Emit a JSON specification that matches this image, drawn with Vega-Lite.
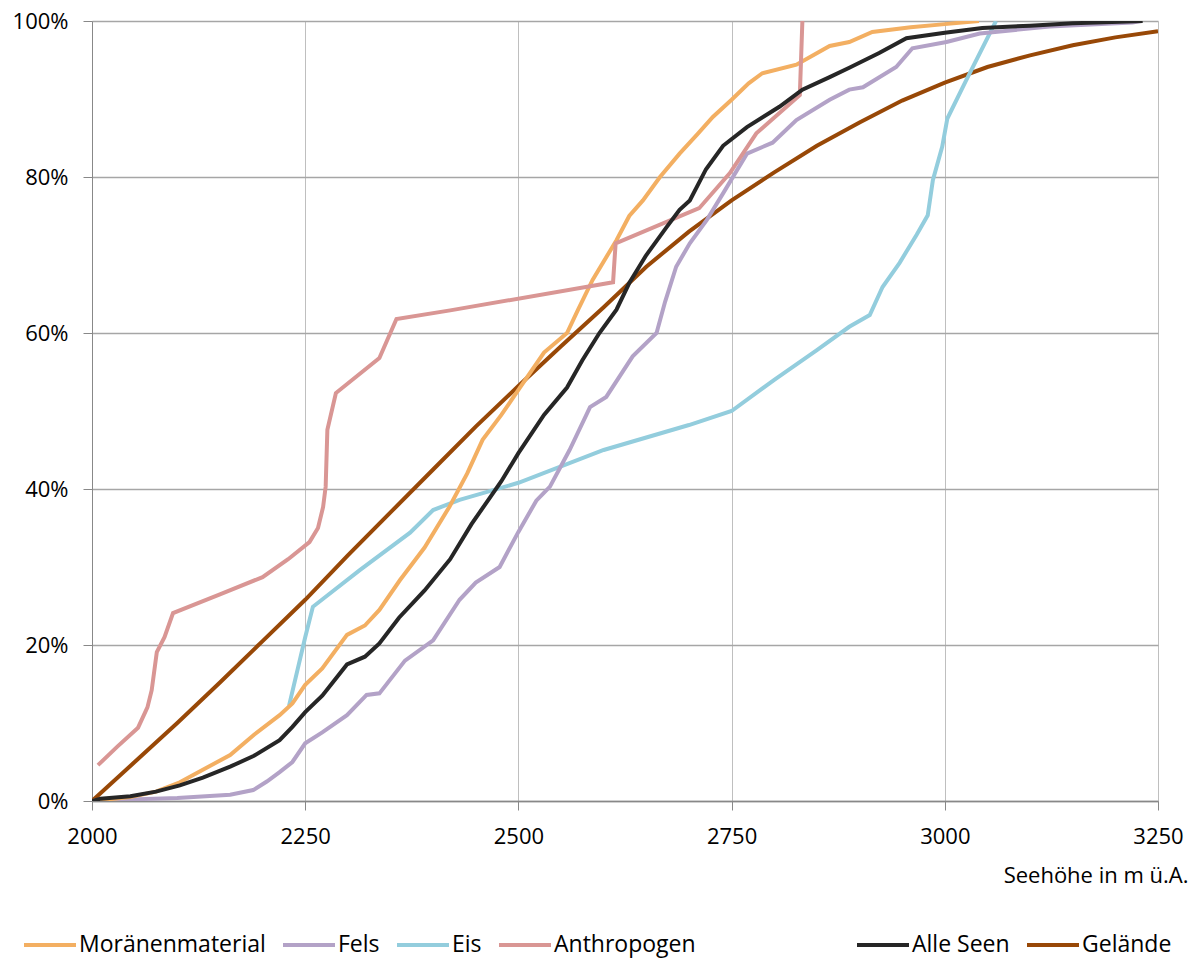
{
  "$schema": "https://vega.github.io/schema/vega-lite/v6.json",
  "width": 1066,
  "height": 780,
  "autosize": {"type": "none"},
  "padding": {"left": 92, "top": 21, "right": 36, "bottom": 159},
  "background": "white",
  "config": {"font": "Open Sans", "view": {"stroke": null}},
  "datasets": {
    "d": [
      {"s": "Gelände", "h": 2000, "p": 0}, {"s": "Gelände", "h": 2050, "p": 5}, {"s": "Gelände", "h": 2100, "p": 10}, {"s": "Gelände", "h": 2150, "p": 15.2}, {"s": "Gelände", "h": 2200, "p": 20.5}, {"s": "Gelände", "h": 2250, "p": 25.8}, {"s": "Gelände", "h": 2300, "p": 31.5}, {"s": "Gelände", "h": 2350, "p": 37}, {"s": "Gelände", "h": 2400, "p": 42.5}, {"s": "Gelände", "h": 2450, "p": 48}, {"s": "Gelände", "h": 2500, "p": 53.2}, {"s": "Gelände", "h": 2550, "p": 58.3}, {"s": "Gelände", "h": 2600, "p": 63.3}, {"s": "Gelände", "h": 2650, "p": 68.5}, {"s": "Gelände", "h": 2700, "p": 73}, {"s": "Gelände", "h": 2750, "p": 77}, {"s": "Gelände", "h": 2800, "p": 80.6}, {"s": "Gelände", "h": 2850, "p": 84}, {"s": "Gelände", "h": 2900, "p": 87}, {"s": "Gelände", "h": 2950, "p": 89.8}, {"s": "Gelände", "h": 3000, "p": 92.1}, {"s": "Gelände", "h": 3050, "p": 94.1}, {"s": "Gelände", "h": 3100, "p": 95.6}, {"s": "Gelände", "h": 3150, "p": 96.9}, {"s": "Gelände", "h": 3200, "p": 97.9}, {"s": "Gelände", "h": 3250, "p": 98.7},

      {"s": "Eis", "h": 2231, "p": 12.2}, {"s": "Eis", "h": 2250, "p": 21}, {"s": "Eis", "h": 2259, "p": 24.9}, {"s": "Eis", "h": 2314, "p": 29.6}, {"s": "Eis", "h": 2373, "p": 34.4}, {"s": "Eis", "h": 2400, "p": 37.3}, {"s": "Eis", "h": 2431, "p": 38.6}, {"s": "Eis", "h": 2500, "p": 40.8}, {"s": "Eis", "h": 2600, "p": 45}, {"s": "Eis", "h": 2700, "p": 48.2}, {"s": "Eis", "h": 2750, "p": 50}, {"s": "Eis", "h": 2800, "p": 54}, {"s": "Eis", "h": 2850, "p": 57.8}, {"s": "Eis", "h": 2888, "p": 60.8}, {"s": "Eis", "h": 2912, "p": 62.3}, {"s": "Eis", "h": 2927, "p": 65.9}, {"s": "Eis", "h": 2947, "p": 69}, {"s": "Eis", "h": 2967, "p": 72.6}, {"s": "Eis", "h": 2980, "p": 75.1}, {"s": "Eis", "h": 2986, "p": 79.6}, {"s": "Eis", "h": 2997, "p": 83.9}, {"s": "Eis", "h": 3003, "p": 87.5}, {"s": "Eis", "h": 3025, "p": 92.4}, {"s": "Eis", "h": 3060, "p": 100},

      {"s": "Fels", "h": 2000, "p": 0}, {"s": "Fels", "h": 2045, "p": 0.2}, {"s": "Fels", "h": 2100, "p": 0.4}, {"s": "Fels", "h": 2162, "p": 0.8}, {"s": "Fels", "h": 2189, "p": 1.4}, {"s": "Fels", "h": 2205, "p": 2.5}, {"s": "Fels", "h": 2220, "p": 3.7}, {"s": "Fels", "h": 2235, "p": 5}, {"s": "Fels", "h": 2250, "p": 7.4}, {"s": "Fels", "h": 2270, "p": 8.8}, {"s": "Fels", "h": 2299, "p": 11}, {"s": "Fels", "h": 2322, "p": 13.6}, {"s": "Fels", "h": 2337, "p": 13.8}, {"s": "Fels", "h": 2367, "p": 18}, {"s": "Fels", "h": 2400, "p": 20.6}, {"s": "Fels", "h": 2431, "p": 25.8}, {"s": "Fels", "h": 2450, "p": 28}, {"s": "Fels", "h": 2478, "p": 30}, {"s": "Fels", "h": 2500, "p": 34.5}, {"s": "Fels", "h": 2521, "p": 38.5}, {"s": "Fels", "h": 2537, "p": 40.3}, {"s": "Fels", "h": 2560, "p": 45}, {"s": "Fels", "h": 2584, "p": 50.5}, {"s": "Fels", "h": 2603, "p": 51.8}, {"s": "Fels", "h": 2634, "p": 57}, {"s": "Fels", "h": 2662, "p": 60}, {"s": "Fels", "h": 2672, "p": 64}, {"s": "Fels", "h": 2685, "p": 68.5}, {"s": "Fels", "h": 2701, "p": 71.5}, {"s": "Fels", "h": 2721, "p": 74.5}, {"s": "Fels", "h": 2740, "p": 77.9}, {"s": "Fels", "h": 2768, "p": 83}, {"s": "Fels", "h": 2798, "p": 84.4}, {"s": "Fels", "h": 2826, "p": 87.3}, {"s": "Fels", "h": 2865, "p": 89.9}, {"s": "Fels", "h": 2888, "p": 91.2}, {"s": "Fels", "h": 2904, "p": 91.5}, {"s": "Fels", "h": 2943, "p": 94.1}, {"s": "Fels", "h": 2962, "p": 96.5}, {"s": "Fels", "h": 3002, "p": 97.3}, {"s": "Fels", "h": 3041, "p": 98.4}, {"s": "Fels", "h": 3123, "p": 99.3}, {"s": "Fels", "h": 3220, "p": 99.8}, {"s": "Fels", "h": 3230, "p": 100},

      {"s": "Moränenmaterial", "h": 2000, "p": 0}, {"s": "Moränenmaterial", "h": 2045, "p": 0.5}, {"s": "Moränenmaterial", "h": 2075, "p": 1.2}, {"s": "Moränenmaterial", "h": 2103, "p": 2.4}, {"s": "Moränenmaterial", "h": 2130, "p": 4}, {"s": "Moränenmaterial", "h": 2162, "p": 5.9}, {"s": "Moränenmaterial", "h": 2190, "p": 8.5}, {"s": "Moränenmaterial", "h": 2220, "p": 11}, {"s": "Moränenmaterial", "h": 2235, "p": 12.5}, {"s": "Moränenmaterial", "h": 2250, "p": 14.9}, {"s": "Moränenmaterial", "h": 2270, "p": 17}, {"s": "Moränenmaterial", "h": 2299, "p": 21.3}, {"s": "Moränenmaterial", "h": 2320, "p": 22.5}, {"s": "Moränenmaterial", "h": 2337, "p": 24.5}, {"s": "Moränenmaterial", "h": 2361, "p": 28.3}, {"s": "Moränenmaterial", "h": 2390, "p": 32.5}, {"s": "Moränenmaterial", "h": 2419, "p": 37.7}, {"s": "Moränenmaterial", "h": 2440, "p": 42}, {"s": "Moränenmaterial", "h": 2458, "p": 46.3}, {"s": "Moränenmaterial", "h": 2480, "p": 49.5}, {"s": "Moränenmaterial", "h": 2500, "p": 52.7}, {"s": "Moränenmaterial", "h": 2530, "p": 57.5}, {"s": "Moränenmaterial", "h": 2557, "p": 60}, {"s": "Moränenmaterial", "h": 2570, "p": 63}, {"s": "Moränenmaterial", "h": 2587, "p": 66.8}, {"s": "Moränenmaterial", "h": 2615, "p": 71.9}, {"s": "Moränenmaterial", "h": 2630, "p": 75}, {"s": "Moränenmaterial", "h": 2646, "p": 77}, {"s": "Moränenmaterial", "h": 2666, "p": 80}, {"s": "Moränenmaterial", "h": 2689, "p": 83}, {"s": "Moränenmaterial", "h": 2710, "p": 85.5}, {"s": "Moränenmaterial", "h": 2728, "p": 87.7}, {"s": "Moränenmaterial", "h": 2750, "p": 89.9}, {"s": "Moränenmaterial", "h": 2770, "p": 92}, {"s": "Moränenmaterial", "h": 2786, "p": 93.3}, {"s": "Moränenmaterial", "h": 2826, "p": 94.4}, {"s": "Moränenmaterial", "h": 2865, "p": 96.8}, {"s": "Moränenmaterial", "h": 2888, "p": 97.3}, {"s": "Moränenmaterial", "h": 2915, "p": 98.6}, {"s": "Moränenmaterial", "h": 2960, "p": 99.2}, {"s": "Moränenmaterial", "h": 3000, "p": 99.6}, {"s": "Moränenmaterial", "h": 3040, "p": 100},

      {"s": "Anthropogen", "h": 2007, "p": 4.6}, {"s": "Anthropogen", "h": 2030, "p": 7}, {"s": "Anthropogen", "h": 2054, "p": 9.4}, {"s": "Anthropogen", "h": 2065, "p": 12}, {"s": "Anthropogen", "h": 2070, "p": 14.2}, {"s": "Anthropogen", "h": 2076, "p": 19.1}, {"s": "Anthropogen", "h": 2085, "p": 21}, {"s": "Anthropogen", "h": 2095, "p": 24.1}, {"s": "Anthropogen", "h": 2150, "p": 26.5}, {"s": "Anthropogen", "h": 2200, "p": 28.7}, {"s": "Anthropogen", "h": 2230, "p": 31}, {"s": "Anthropogen", "h": 2255, "p": 33.2}, {"s": "Anthropogen", "h": 2265, "p": 35}, {"s": "Anthropogen", "h": 2271, "p": 37.7}, {"s": "Anthropogen", "h": 2274, "p": 40.3}, {"s": "Anthropogen", "h": 2276, "p": 47.6}, {"s": "Anthropogen", "h": 2286, "p": 52.3}, {"s": "Anthropogen", "h": 2337, "p": 56.8}, {"s": "Anthropogen", "h": 2357, "p": 61.8}, {"s": "Anthropogen", "h": 2420, "p": 62.9}, {"s": "Anthropogen", "h": 2611, "p": 66.5}, {"s": "Anthropogen", "h": 2614, "p": 71.5}, {"s": "Anthropogen", "h": 2712, "p": 76}, {"s": "Anthropogen", "h": 2748, "p": 80.5}, {"s": "Anthropogen", "h": 2779, "p": 85.6}, {"s": "Anthropogen", "h": 2830, "p": 90.5}, {"s": "Anthropogen", "h": 2833, "p": 100},

      {"s": "Alle Seen", "h": 2000, "p": 0}, {"s": "Alle Seen", "h": 2010, "p": 0.3}, {"s": "Alle Seen", "h": 2045, "p": 0.6}, {"s": "Alle Seen", "h": 2075, "p": 1.2}, {"s": "Alle Seen", "h": 2103, "p": 2}, {"s": "Alle Seen", "h": 2130, "p": 3}, {"s": "Alle Seen", "h": 2162, "p": 4.4}, {"s": "Alle Seen", "h": 2190, "p": 5.8}, {"s": "Alle Seen", "h": 2220, "p": 7.8}, {"s": "Alle Seen", "h": 2235, "p": 9.5}, {"s": "Alle Seen", "h": 2250, "p": 11.4}, {"s": "Alle Seen", "h": 2270, "p": 13.5}, {"s": "Alle Seen", "h": 2299, "p": 17.5}, {"s": "Alle Seen", "h": 2320, "p": 18.5}, {"s": "Alle Seen", "h": 2337, "p": 20.2}, {"s": "Alle Seen", "h": 2360, "p": 23.5}, {"s": "Alle Seen", "h": 2390, "p": 27}, {"s": "Alle Seen", "h": 2420, "p": 31}, {"s": "Alle Seen", "h": 2445, "p": 35.5}, {"s": "Alle Seen", "h": 2466, "p": 38.8}, {"s": "Alle Seen", "h": 2480, "p": 41}, {"s": "Alle Seen", "h": 2500, "p": 44.6}, {"s": "Alle Seen", "h": 2530, "p": 49.5}, {"s": "Alle Seen", "h": 2557, "p": 53}, {"s": "Alle Seen", "h": 2575, "p": 56.5}, {"s": "Alle Seen", "h": 2595, "p": 60}, {"s": "Alle Seen", "h": 2615, "p": 63}, {"s": "Alle Seen", "h": 2630, "p": 66.4}, {"s": "Alle Seen", "h": 2650, "p": 70}, {"s": "Alle Seen", "h": 2674, "p": 73.6}, {"s": "Alle Seen", "h": 2689, "p": 75.8}, {"s": "Alle Seen", "h": 2701, "p": 77}, {"s": "Alle Seen", "h": 2720, "p": 81}, {"s": "Alle Seen", "h": 2740, "p": 84}, {"s": "Alle Seen", "h": 2768, "p": 86.4}, {"s": "Alle Seen", "h": 2806, "p": 89}, {"s": "Alle Seen", "h": 2833, "p": 91.2}, {"s": "Alle Seen", "h": 2865, "p": 92.8}, {"s": "Alle Seen", "h": 2888, "p": 94}, {"s": "Alle Seen", "h": 2923, "p": 95.9}, {"s": "Alle Seen", "h": 2955, "p": 97.8}, {"s": "Alle Seen", "h": 3000, "p": 98.5}, {"s": "Alle Seen", "h": 3044, "p": 99.1}, {"s": "Alle Seen", "h": 3100, "p": 99.4}, {"s": "Alle Seen", "h": 3150, "p": 99.7}, {"s": "Alle Seen", "h": 3232, "p": 100}
    ]
  },
  "data": {"name": "d"},
  "mark": {"type": "line", "strokeWidth": 4, "clip": true},
  "encoding": {
    "x": {
      "field": "h", "type": "quantitative",
      "scale": {"domain": [2000, 3250], "nice": false, "zero": false},
      "axis": {
        "values": [2000, 2250, 2500, 2750, 3000, 3250],
        "format": "d",
        "title": "Seehöhe in m ü.A.",
        "grid": true, "gridColor": "#bfbfbf", "gridWidth": 1,
        "domainColor": "#888888", "domainWidth": 1.5,
        "tickColor": "#888888", "tickSize": 9, "tickWidth": 1,
        "labelFontSize": 22, "labelColor": "#000000", "labelBaseline": "alphabetic", "labelPadding": 33,
        "labelFlush": false, "labelOverlap": false,
        "titleFontSize": 22, "titleFontWeight": "normal", "titleColor": "#000000",
        "titleAnchor": "end", "titleAlign": "right", "titleBaseline": "alphabetic",
        "titleX": 1096, "titleY": 81
      }
    },
    "y": {
      "field": "p", "type": "quantitative",
      "scale": {"domain": [0, 100], "nice": false},
      "axis": {
        "values": [0, 20, 40, 60, 80, 100],
        "labelExpr": "datum.value + '%'",
        "title": null,
        "grid": true, "gridColor": "#a6a6a6", "gridWidth": 1.5,
        "domainColor": "#888888", "domainWidth": 1,
        "tickColor": "#888888", "tickSize": 9, "tickWidth": 1,
        "labelFontSize": 22, "labelColor": "#000000", "labelPadding": 15,
        "labelFlush": false, "labelOverlap": false
      }
    },
    "color": {
      "field": "s", "type": "nominal",
      "scale": {
        "domain": ["Moränenmaterial", "Fels", "Eis", "Anthropogen", "Leeres", "Alle Seen", "Gelände"],
        "range": ["#f3af62", "#b3a2c7", "#93cddd", "#d99694", "rgba(255,255,255,0)", "#262626", "#984807"]
      },
      "legend": {
        "orient": "none", "legendX": -70, "legendY": 896,
        "direction": "horizontal", "title": null,
        "symbolType": "stroke", "symbolSize": 2704, "symbolStrokeWidth": 4,
        "labelFontSize": 23, "labelColor": "#000000", "labelOffset": 1, "labelLimit": 400,
        "columnPadding": 9, "padding": 0,
        "encode": {"labels": {"update": {"opacity": {"signal": "datum.value === 'Leeres' ? 0 : 1"}}}}
      }
    }
  }
}
